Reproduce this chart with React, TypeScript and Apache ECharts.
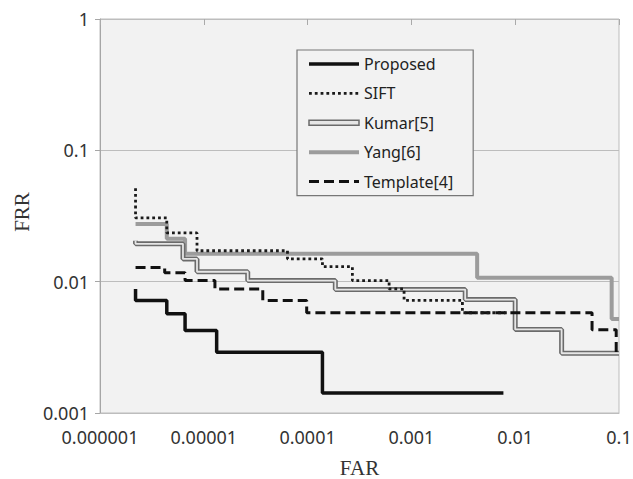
import React, { useEffect, useRef } from "react";
import * as echarts from "echarts";

// Axis ticks (log scale)
const X_TICK_LABELS = ["0.000001", "0.00001", "0.0001", "0.001", "0.01", "0.1"];
const Y_TICK_LABELS = ["0.001", "0.01", "0.1", "1"];

// Step curves: each point starts a level (step: "end")
const proposedFAR = [2.2e-6, 2.2e-6, 4.4e-6, 6.6e-6, 1.33e-5, 1.39e-4, 7.7e-3];
const proposedFRR = [0.0088, 0.0072, 0.0057, 0.00425, 0.0029, 0.00142, 0.00142];

const siftFAR = [2.2e-6, 2.2e-6, 4.4e-6, 8.6e-6, 6.4e-5, 1.39e-4, 2.7e-4, 6.1e-4, 8.5e-4, 3.1e-3, 8.8e-3];
const siftFRR = [0.0515, 0.0306, 0.0235, 0.0172, 0.0149, 0.013, 0.0102, 0.0088, 0.0072, 0.0058, 0.0058];

const kumarFAR = [2.2e-6, 2.2e-6, 6.3e-6, 8.6e-6, 2.65e-5, 1.85e-4, 3.3e-3, 0.01, 0.028, 0.1];
const kumarFRR = [0.0205, 0.0194, 0.0149, 0.0119, 0.0102, 0.0087, 0.0073, 0.00433, 0.00285, 0.00285];

const yangFAR = [2.2e-6, 4.4e-6, 6.6e-6, 4.3e-3, 0.085, 0.1];
const yangFRR = [0.0275, 0.0212, 0.0163, 0.0107, 0.0052, 0.0052];

const templateFAR = [2.2e-6, 4.2e-6, 6.6e-6, 1.28e-5, 3.7e-5, 9.8e-5, 0.055, 0.094, 0.1];
const templateFRR = [0.0128, 0.0117, 0.0102, 0.0088, 0.0072, 0.0058, 0.0043, 0.0029, 0.0029];

const zip = (xs: number[], ys: number[]) => xs.map((x, i) => [x, ys[i]]);

const labelFor = (labels: string[], minExp: number) => (v: number) => {
  const e = Math.round(Math.log10(v));
  return labels[e - minExp] ?? "";
};

export default function App() {
  const ref = useRef<HTMLDivElement>(null);

  useEffect(() => {
    if (!ref.current) return;
    const chart = echarts.init(ref.current, undefined, { renderer: "svg" });
    const sans = "Noto Sans";
    const base = { type: "line", step: "end", showSymbol: false, symbol: "none", silent: true };
    chart.setOption({
      animation: false,
      backgroundColor: "#ffffff",
      grid: {
        left: 100,
        top: 19,
        width: 519,
        height: 394,
        outerBoundsMode: "none",
        containLabel: false,
        show: true,
        backgroundColor: "#f2f2f2",
        borderColor: "#bdbdbd",
        borderWidth: 1,
      },
      legend: {
        orient: "vertical",
        left: 297,
        top: 50,
        itemWidth: 50,
        itemHeight: 14,
        itemGap: 13.4,
        padding: [6, 20, 6, 10],
        backgroundColor: "#f2f2f2",
        borderColor: "#777777",
        borderWidth: 1.2,
        itemStyle: { opacity: 0 },
        lineStyle: { width: "inherit" },
        textStyle: { fontFamily: sans, fontSize: 16, color: "#222222" },
        data: [
          { name: "Proposed" },
          { name: "SIFT" },
          {
            name: "Kumar[5]",
            icon: "path://M0,0L50,0L50,5L0,5Z",
            itemStyle: { opacity: 1, color: "#e6e6e6", borderColor: "#6b6b6b", borderWidth: 1.5 },
          },
          { name: "Yang[6]" },
          { name: "Template[4]" },
        ],
      },
      xAxis: [
        {
          type: "log",
          logBase: 10,
          min: 0.000001,
          max: 0.1,
          splitNumber: 5,
          position: "bottom",
          name: "FAR",
          nameLocation: "middle",
          nameGap: 44,
          nameTextStyle: { fontFamily: "Liberation Serif", fontSize: 21, color: "#333333" },
          axisLine: { show: true, lineStyle: { color: "#bdbdbd" } },
          axisTick: { show: false },
          splitLine: { show: false },
          axisLabel: {
            formatter: labelFor(X_TICK_LABELS, -6),
            fontFamily: sans,
            fontSize: 18,
            color: "#333333",
            margin: 15,
          },
        },
        {
          type: "log",
          logBase: 10,
          min: 0.000001,
          max: 0.1,
          splitNumber: 5,
          position: "top",
          axisLine: { show: false },
          axisTick: { show: true, inside: true, length: 6, lineStyle: { color: "#aaaaaa" } },
          axisLabel: { show: false },
          splitLine: { show: false },
        },
      ],
      yAxis: {
        type: "log",
        logBase: 10,
        min: 0.001,
        max: 1,
        splitNumber: 3,
        name: "FRR",
        nameLocation: "middle",
        nameGap: 67,
        nameTextStyle: { fontFamily: "Liberation Serif", fontSize: 21, color: "#333333", padding: [0, 0, 0, 8] },
        axisLine: { show: true, lineStyle: { color: "#a6a6a6" } },
        axisTick: { show: true, length: 5, lineStyle: { color: "#a6a6a6" } },
        splitLine: { show: true, lineStyle: { color: "#bdbdbd", width: 1 } },
        axisLabel: {
          formatter: labelFor(Y_TICK_LABELS, -3),
          fontFamily: sans,
          fontSize: 18,
          color: "#333333",
          margin: 11,
        },
      },
      series: [
        {
          ...base,
          name: "Yang[6]",
          data: zip(yangFAR, yangFRR),
          itemStyle: { color: "#9c9c9c" },
          lineStyle: { color: "#9c9c9c", width: 4 },
          z: 2,
        },
        {
          ...base,
          name: "Kumar[5]",
          data: zip(kumarFAR, kumarFRR),
          itemStyle: { color: "#6b6b6b" },
          lineStyle: { color: "#6b6b6b", width: 5 },
          z: 3,
        },
        {
          ...base,
          name: "Kumar[5] inner",
          data: zip(kumarFAR, kumarFRR),
          itemStyle: { color: "#e6e6e6" },
          lineStyle: { color: "#e6e6e6", width: 1.8 },
          z: 4,
        },
        {
          ...base,
          name: "Template[4]",
          data: zip(templateFAR, templateFRR),
          itemStyle: { color: "#111111" },
          lineStyle: { color: "#111111", width: 3, type: [10, 5] },
          z: 5,
        },
        {
          ...base,
          name: "SIFT",
          data: zip(siftFAR, siftFRR),
          itemStyle: { color: "#1a1a1a" },
          lineStyle: { color: "#1a1a1a", width: 2.8, type: [2.8, 3] },
          z: 6,
        },
        {
          ...base,
          name: "Proposed",
          data: zip(proposedFAR, proposedFRR),
          itemStyle: { color: "#111111" },
          lineStyle: { color: "#111111", width: 3.5 },
          z: 7,
        },
      ],
    });
    return () => chart.dispose();
  }, []);

  return (
    <div
      ref={ref}
      style={{ position: "fixed", left: 0, top: 0, width: 633, height: 479 }}
    />
  );
}
